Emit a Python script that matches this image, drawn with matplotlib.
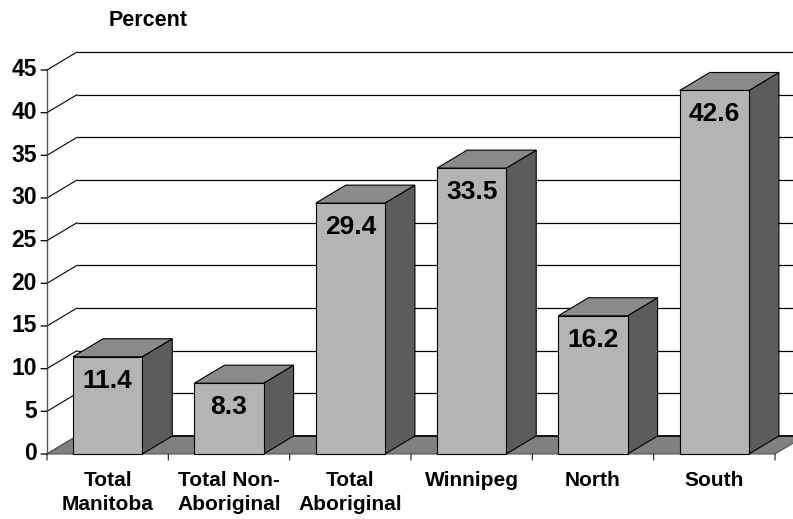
import matplotlib
matplotlib.use('Agg')
import matplotlib.pyplot as plt
from matplotlib.patches import Polygon, Rectangle
from matplotlib.transforms import offset_copy

# ---- data ----
categories = ["Total\nManitoba", "Total Non-\nAboriginal", "Total\nAboriginal",
              "Winnipeg", "North", "South"]
values = [11.4, 8.3, 29.4, 33.5, 16.2, 42.6]
yticks = [0, 5, 10, 15, 20, 25, 30, 35, 40, 45]
ylabel = "Percent"

# ---- style ----
plt.rcParams['font.family'] = ['Liberation Sans', 'DejaVu Sans']
plt.rcParams['font.weight'] = 'bold'
FRONT = '#b4b4b4'
TOP = '#8a8a8a'
SIDE = '#5c5c5c'
FLOOR = '#808080'

fig = plt.figure(figsize=(7.93, 5.19), dpi=100)
ax = fig.add_axes([47 / 793, 65 / 519, 728 / 793, 384 / 519])
n = len(values)
ax.set_xlim(-0.5, n - 0.5)
ax.set_ylim(0, 45)
ax.axis('off')

# depth offsets in data units (30 px right, 18 px up)
DX = 30 / (728 / n)
DY = 18 / (384 / 45)
x0, x1 = -0.5, n - 0.5
W = 0.57

# back-wall gridlines and side-wall diagonals
for v in yticks:
    ax.plot([x0 + DX, x1 + DX + 0.3], [v + DY, v + DY], color='black', lw=0.9,
            clip_on=False, zorder=1, solid_capstyle='butt')
    ax.plot([x0, x0 + DX], [v, v + DY], color='black', lw=0.8,
            clip_on=False, zorder=1)

# floor
floor = Polygon([(x0, 0), (x1, 0), (x1 + DX, DY), (x0 + DX, DY)], closed=True,
                facecolor=FLOOR, edgecolor='#555555', lw=0.8, clip_on=False, zorder=2)
ax.add_patch(floor)
ax.plot([x0 + DX, x1 + DX + 0.3], [DY, DY], color='black', lw=1.2,
        clip_on=False, zorder=2.5)

# left axis line and ticks
ax.plot([x0, x0], [0, 45], color='#555555', lw=1.0, clip_on=False, zorder=2.6)
tr_lab = offset_copy(ax.transData, fig=fig, x=-10, y=0, units='dots')
for v in yticks:
    ax.annotate('', xy=(x0, v), xytext=(-6, 0), textcoords='offset pixels',
                arrowprops=dict(arrowstyle='-', color='black', lw=0.9,
                                shrinkA=0, shrinkB=0))
    ax.text(x0, v, str(v), transform=tr_lab, ha='right', va='center',
            fontsize=16.5, fontweight='bold', color='black')

# category ticks
for b in range(n + 1):
    xb = x0 + b
    ax.annotate('', xy=(xb, 0), xytext=(0, -6), textcoords='offset pixels',
                arrowprops=dict(arrowstyle='-', color='#333333', lw=0.9,
                                shrinkA=0, shrinkB=0))

# bars
for i, v in enumerate(values):
    l, r = i - W / 2, i + W / 2
    front = Rectangle((l, 0), W, v, facecolor=FRONT, edgecolor='black', lw=0.8,
                      zorder=3, clip_on=False)
    top = Polygon([(l, v), (r, v), (r + DX, v + DY), (l + DX, v + DY)], closed=True,
                  facecolor=TOP, edgecolor='black', lw=0.8, zorder=3, clip_on=False)
    side = Polygon([(r, 0), (r + DX, DY), (r + DX, v + DY), (r, v)], closed=True,
                   facecolor=SIDE, edgecolor='black', lw=0.8, zorder=3, clip_on=False)
    ax.add_patch(side)
    ax.add_patch(top)
    ax.add_patch(front)
    tr_v = offset_copy(ax.transData, fig=fig, x=0, y=-24, units='dots')
    ax.text(i, v, f"{v:.1f}", transform=tr_v, ha='center', va='center',
            fontsize=19, fontweight='bold', color='black', zorder=5)

# category labels
tr_cat = offset_copy(ax.transData, fig=fig, x=0, y=-17, units='dots')
for i, c in enumerate(categories):
    ax.text(i, 0, c, transform=tr_cat, ha='center', va='top', fontsize=15,
            fontweight='bold', linespacing=1.3, color='black')

fig.text(148 / 793, 1 - 20 / 519, ylabel, ha='center', va='center',
         fontsize=15.5, fontweight='bold', color='black')

fig.savefig('out.png', dpi=100)
